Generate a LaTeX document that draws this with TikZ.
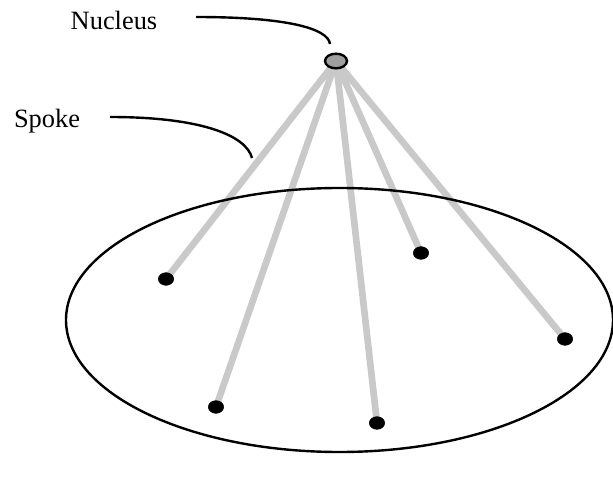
\documentclass[tikz,border=0pt]{standalone}
\usepackage{fontspec}
\setmainfont{Liberation Serif}
\usetikzlibrary{shapes.geometric}
\usetikzlibrary{backgrounds}

\tikzset{
  spoke/.style={draw=gray!42, line width=5},
  dot/.style={ellipse, fill=black, draw=black, inner sep=0pt, minimum width=11.5, minimum height=9.5},
  leader/.style={draw=black, line width=1.8},
  lbl/.style={inner sep=0.75pt, font=\fontsize{19.8}{22}\selectfont}
}

\begin{document}
\begin{tikzpicture}[x=0.75pt,y=0.75pt,yscale=-1,xscale=1]
\useasboundingbox (0,0) rectangle (613,484);
\clip (0,0) rectangle (613,484);

%Ellipse (ring)
\draw [line width=1.8] (339.5,320) ellipse (273.5 and 132);

%Nucleus
\node (nuc) [ellipse, draw=black, line width=1.8, fill=gray!75, inner sep=0pt, minimum width=16.5, minimum height=11] at (336,61) {};

%Spoke ends
\node (d1) [dot] at (166,279) {};
\node (d2) [dot] at (216,407) {};
\node (d3) [dot] at (377,423) {};
\node (d4) [dot] at (421,253) {};
\node (d5) [dot] at (565,339) {};

%Spokes
\begin{scope}[on background layer]
\foreach \d in {d1,d2,d3,d4,d5}
  \draw [spoke] (nuc.center) -- (\d.center);
\end{scope}

% Text Node
\node (nlbl) [lbl] at (114,20) {Nucleus};
% Text Node
\node (slbl) [lbl] at (47,121) {Spoke};

%Leaders
\coordinate (nA) at (196,17);
\coordinate (nB) at (330,44);
\coordinate (sA) at (110,117);
\coordinate (sB) at (252,158);
\draw [leader] (nA) .. controls (285,17) and (328,28) .. (nB);
\draw [leader] (sA) .. controls (200,117) and (246,135) .. (sB);

\end{tikzpicture}
\end{document}
